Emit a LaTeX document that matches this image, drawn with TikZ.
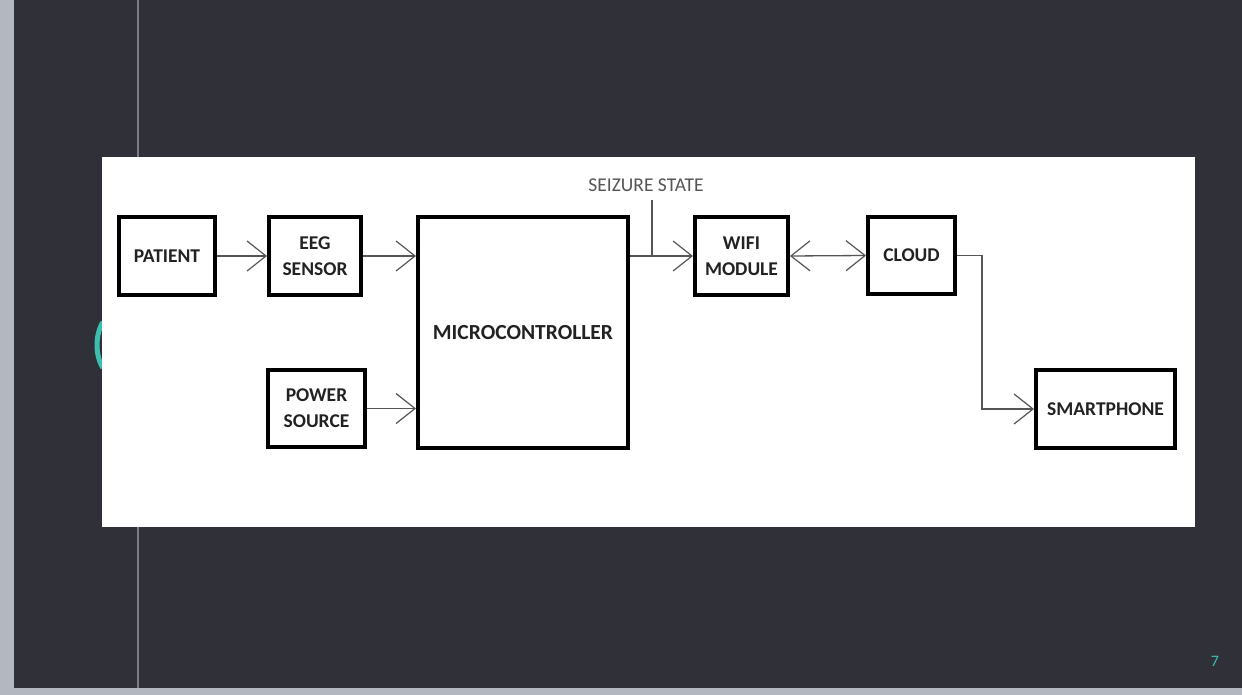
\documentclass[tikz,border=0pt]{standalone}
\usepackage{fontspec}
\setmainfont{Carlito}
\usetikzlibrary{arrows.meta}
\definecolor{bgdark}{HTML}{2F3038}
\definecolor{strip}{HTML}{B3B7C0}
\definecolor{vline}{HTML}{7A7C86}
\definecolor{tealc}{HTML}{3DBFB0}
\definecolor{boxtext}{HTML}{222222}
\definecolor{arrowc}{HTML}{555555}
\tikzset{
  blk/.style={draw=black, line width=4pt, fill=white, inner sep=0pt, align=center,
    font=\fontsize{19.5}{26}\selectfont\bfseries, text=boxtext},
  conn/.style={draw=arrowc, line width=1.3pt, -{Straight Barb[length=19pt,width=30pt,line width=1.2pt]}},
  biconn/.style={draw=arrowc, line width=1.3pt, {Straight Barb[length=19pt,width=30pt,line width=1.2pt]}-{Straight Barb[length=19pt,width=30pt,line width=1.2pt]}},
  plain/.style={draw=arrowc, line width=1.3pt},
}
\begin{document}
\begin{tikzpicture}[x=1pt,y=-1pt]
\useasboundingbox (0,0) rectangle (1242,695);
% slide background
\fill[bgdark] (0,0) rectangle (1242,695);
\fill[strip] (0,0) rectangle (14,695);
\fill[strip] (0,688) rectangle (1242,695);
\draw[vline, line width=2pt] (138,0) -- (138,688);
\draw[tealc, line width=5pt] (103,322) .. controls (95,335) and (95,355) .. (103,368);
\node[text=tealc, font=\fontsize{16}{18}\selectfont] (pg) at (1215,661) {7};
% white panel
\fill[white] (102,157) rectangle (1195,527);
% boxes
\node[blk, minimum width=96pt, minimum height=78pt] (pat) at (167,256) {PATIENT};
\node[blk, minimum width=92pt, minimum height=78pt] (eeg) at (315,256) {EEG\\SENSOR};
\node[blk, minimum width=210pt, minimum height=231pt, font=\fontsize{21.5}{26}\selectfont\bfseries] (mcu) at (523,332.5) {MICROCONTROLLER};
\node[blk, minimum width=97pt, minimum height=77pt] (pow) at (316.5,408.5) {POWER\\SOURCE};
\node[blk, minimum width=93pt, minimum height=78pt] (wifi) at (741.5,256) {WIFI\\MODULE};
\node[blk, minimum width=87pt, minimum height=77pt] (cloud) at (911.5,255.5) {CLOUD};
\node[blk, minimum width=139pt, minimum height=78pt] (smart) at (1105.5,409) {SMARTPHONE};
\node[text=arrowc, font=\fontsize{19.5}{22}\selectfont, inner sep=0pt] (sztxt) at (646,185) {SEIZURE STATE};
% connectors
\draw[conn] (pat.east) -- (eeg.west);
\draw[conn] (eeg.east) -- (eeg.east -| mcu.west);
\draw[conn] (pow.east) -- (pow.east -| mcu.west);
\draw[conn] (mcu.east |- wifi.west) -- (wifi.west);
\coordinate (sz) at (652,200);
\draw[plain] (sz) -- (sz |- wifi.west);
\draw[biconn] (wifi.east) -- (cloud.west);
\draw[conn] (cloud.east) -- ++(25,0) |- (smart.west);
\end{tikzpicture}
\end{document}
